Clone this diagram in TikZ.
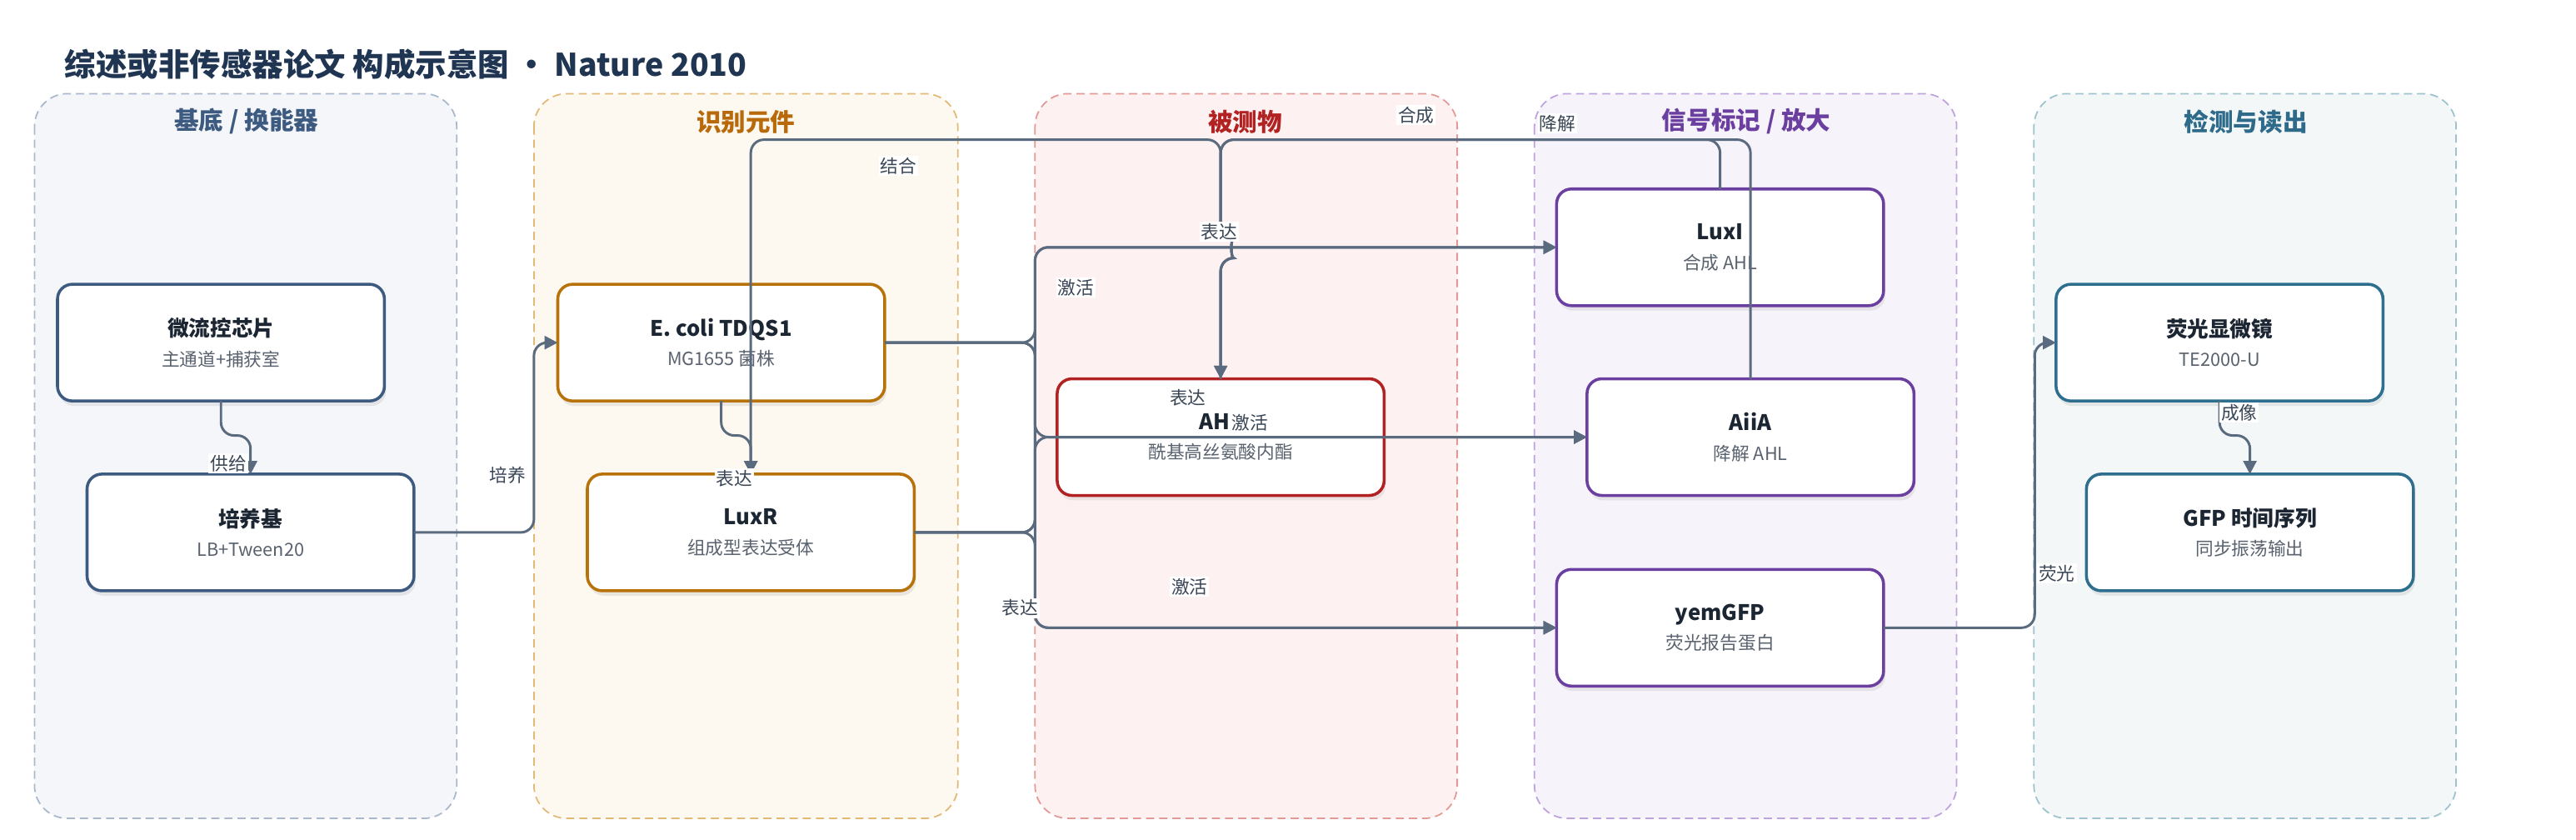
\documentclass[tikz,border=0pt]{standalone}
\usepackage{fontspec}
\setmainfont{Noto Sans CJK SC}
\usetikzlibrary{arrows.meta,shadows,positioning}

\definecolor{titlec}{HTML}{1F3552}
\definecolor{edgec}{HTML}{5B6B7F}
\definecolor{lbltxt}{HTML}{3A4656}
\definecolor{nodetxt}{HTML}{1C2633}
\definecolor{subtxt}{HTML}{59626E}
% lane colours: border / fill / title
\definecolor{laneAb}{HTML}{A9B8CC}\definecolor{laneAf}{HTML}{F4F6FA}\definecolor{laneAt}{HTML}{3D5A80}
\definecolor{laneBb}{HTML}{E3B978}\definecolor{laneBf}{HTML}{FDF8F0}\definecolor{laneBt}{HTML}{B8690A}
\definecolor{laneCb}{HTML}{E29A97}\definecolor{laneCf}{HTML}{FDF2F1}\definecolor{laneCt}{HTML}{B22222}
\definecolor{laneDb}{HTML}{BFA3DC}\definecolor{laneDf}{HTML}{F6F3FA}\definecolor{laneDt}{HTML}{6B3FA0}
\definecolor{laneEb}{HTML}{9EC3CF}\definecolor{laneEf}{HTML}{F3F7F8}\definecolor{laneEt}{HTML}{2E6B8A}
% node borders
\definecolor{blkA}{HTML}{3D5A80}
\definecolor{blkB}{HTML}{B8720A}
\definecolor{blkC}{HTML}{B22222}
\definecolor{blkD}{HTML}{6B3FA0}
\definecolor{blkE}{HTML}{2E6E8E}

\newcommand{\nd}[2]{{\bfseries #1}\\[1pt]{\fontsize{11}{13}\selectfont\color{subtxt}#2}}

\tikzset{
  lane/.style 2 args={draw=#1, fill=#2, line width=0.9pt, dash pattern=on 5pt off 3pt, rounded corners=20pt},
  lanetitle/.style={font=\fontsize{15}{18}\selectfont\bfseries, text=#1},
  blk/.style={draw=#1, line width=1.8pt, fill=white, rounded corners=9pt, minimum width=199pt,
    minimum height=71pt, align=center, outer sep=0pt, text=nodetxt,
    font=\fontsize{13}{17}\selectfont,
    drop shadow={opacity=0.15, shadow xshift=1pt, shadow yshift=-3pt}},
  conn/.style={draw=edgec, line width=1.5pt, rounded corners=8pt, -{Triangle[length=8pt,width=8pt]}},
  lbl/.style={fill=white, inner sep=1pt, text=lbltxt, font=\fontsize{11}{13}\selectfont},
}

\begin{document}
\begin{tikzpicture}[x=1pt,y=-1pt]
\useasboundingbox (0,0) rectangle (1568,511);

\node[anchor=west, font=\fontsize{19}{23}\selectfont\bfseries, text=titlec] (title) at (36,39)
  {综述或非传感器论文 构成示意图 • Nature 2010};

% lanes
\path[lane={laneAb}{laneAf}] (21,57) rectangle (278,498);
\path[lane={laneBb}{laneBf}] (325,57) rectangle (583,498);
\path[lane={laneCb}{laneCf}] (630,57) rectangle (887,498);
\path[lane={laneDb}{laneDf}] (934,57) rectangle (1191,498);
\path[lane={laneEb}{laneEf}] (1238,57) rectangle (1495,498);

\node[lanetitle=laneAt] (tA) at (150,74) {基底 / 换能器};
\node[lanetitle=laneBt] (tB) at (454,74) {识别元件};
\node[lanetitle=laneCt] (tC) at (758,74) {被测物};
\node[lanetitle=laneDt] (tD) at (1063,74) {信号标记 / 放大};
\node[lanetitle=laneEt] (tE) at (1367,74) {检测与读出};

% blocks
\node[blk=blkA] (chip) at (134.5,208.5) {\nd{微流控芯片}{主通道+捕获室}};
\node[blk=blkA] (medium) at (152.5,324) {\nd{培养基}{LB+Tween20}};
\node[blk=blkB] (ecoli) at (439,208.5) {\nd{E. coli TDQS1}{MG1655 菌株}};
\node[blk=blkB] (luxr) at (457,324) {\nd{LuxR}{组成型表达受体}};
\node[blk=blkC] (ahl) at (743,266) {\nd{AHL}{酰基高丝氨酸内酯}};
\node[blk=blkD] (luxi) at (1047,150.5) {\nd{LuxI}{合成 AHL}};
\node[blk=blkD] (aiia) at (1065.5,266) {\nd{AiiA}{降解 AHL}};
\node[blk=blkD] (gfp) at (1047,382) {\nd{yemGFP}{荧光报告蛋白}};
\node[blk=blkE] (scope) at (1351,208.5) {\nd{荧光显微镜}{TE2000-U}};
\node[blk=blkE] (series) at (1369.5,324) {\nd{GFP 时间序列}{同步振荡输出}};

% connectors
\draw[conn] (chip.south) -- ++(0,21) -| (medium.north);
\draw[conn] (medium.east) -- ++(73,0) |- (ecoli.west);
\draw[conn] (ecoli.south) -- ++(0,21) -| (luxr.north);
\draw[conn] (ahl.north) -- (743,157) .. controls (749,157) and (749,145) .. (743,145) -- (743,85) -| (luxr.north);
\draw[conn] (luxi.north) -- (1047,85) -- (743,85) -- (743,145) .. controls (749,145) and (749,157) .. (743,157) -- (ahl.north);
\draw[conn] (aiia.north) -- (1065.5,85) -- (743,85) -- (743,145) .. controls (749,145) and (749,157) .. (743,157) -- (ahl.north);
\foreach \t in {luxi,aiia,gfp}{
  \draw[conn] (ecoli.east) -- ++(91.5,0) |- (\t.west);
  \draw[conn] (luxr.east) -- ++(73.5,0) |- (\t.west);
}
\draw[conn] (gfp.east) -- ++(92,0) |- (scope.west);
\draw[conn] (scope.south) -- ++(0,21) -| (series.north);

% labels
\node[lbl] (l1) at (139,282) {供给};
\node[lbl] (l2) at (309,289) {培养};
\node[lbl] (l3) at (447,291) {表达};
\node[lbl] (l4) at (547,101) {结合};
\node[lbl] (l5) at (862,70) {合成};
\node[lbl] (l6) at (948,75) {降解};
\node[lbl] (l7) at (742,141) {表达};
\node[lbl] (l8) at (655,175) {激活};
\node[lbl] (l9) at (723,242) {表达};
\node[lbl] (l10) at (761,257) {激活};
\node[lbl] (l11) at (724,357) {激活};
\node[lbl] (l12) at (621,370) {表达};
\node[lbl] (l13) at (1252,349) {荧光};
\node[lbl] (l14) at (1363,251) {成像};

\end{tikzpicture}
\end{document}
